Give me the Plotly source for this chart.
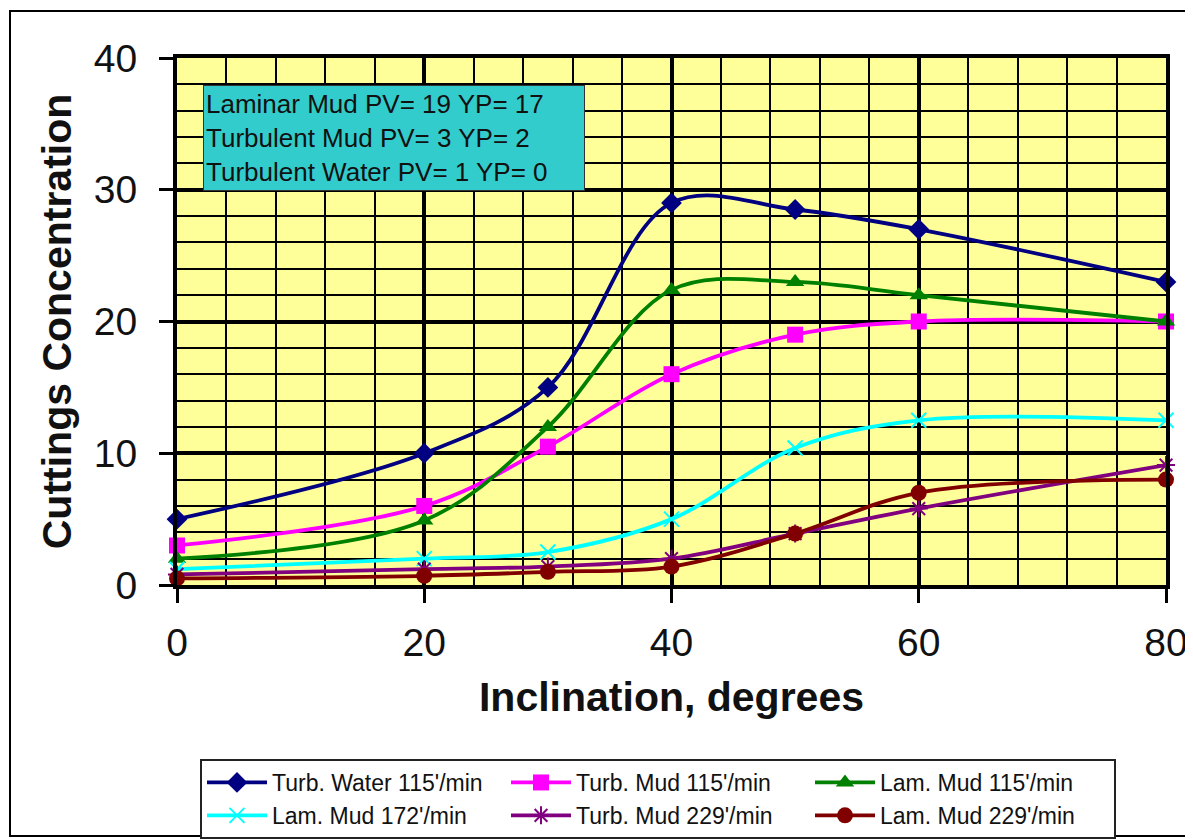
import plotly.graph_objects as go

# ---- data ----
inclination = [0, 20, 30, 40, 50, 60, 80]
turb_water_115 = [5, 10, 15, 29, 28.5, 27, 23]
turb_mud_115 = [3, 6, 10.5, 16, 19, 20, 20]
lam_mud_115 = [2, 4.9, 12, 22.4, 23, 22, 20]
lam_mud_172 = [1.2, 2, 2.5, 5, 10.4, 12.5, 12.5]
turb_mud_229 = [0.8, 1.2, 1.4, 2, 3.9, 5.8, 9.1]
lam_mud_229 = [0.5, 0.7, 1.0, 1.4, 3.9, 7.0, 8.0]

series_names = ["Turb. Water 115'/min", "Turb. Mud 115'/min", "Lam. Mud 115'/min",
                "Lam. Mud 172'/min", "Turb. Mud 229'/min", "Lam. Mud 229'/min"]
x_ticks = [0, 20, 40, 60, 80]
y_ticks = [0, 10, 20, 30, 40]
note_lines = ["Laminar Mud PV= 19 YP= 17", "Turbulent Mud PV= 3 YP= 2",
              "Turbulent Water PV= 1 YP= 0"]

FONT = "Liberation Sans, Arial, sans-serif"
OFF = 8  # page body margin of the exported html
W, H = 1193 - OFF, 839 - OFF
# plot area bounds in screenshot pixels
L, R, T, B = 177, 1166, 58, 585


def px(xp):
    return (xp - L) / (R - L)


def py(yp):
    return (B - yp) / (B - T)


styles = [
    dict(color="#000080", symbol="diamond", size=16, lw=0),
    dict(color="#FF00FF", symbol="square", size=16, lw=0),
    dict(color="#008000", symbol="triangle-up", size=16, lw=0),
    dict(color="#00FFFF", symbol="x-thin", size=15, lw=2),
    dict(color="#800080", symbol="asterisk", size=15, lw=2),
    dict(color="#800000", symbol="circle", size=16, lw=0),
]
all_series = [turb_water_115, turb_mud_115, lam_mud_115, lam_mud_172, turb_mud_229, lam_mud_229]

fig = go.Figure()
for name, ys, st in zip(series_names, all_series, styles):
    fig.add_trace(go.Scatter(
        x=inclination, y=ys, name=name, mode="lines+markers",
        line=dict(color=st["color"], width=3.8, shape="spline", smoothing=1.0),
        marker=dict(color=st["color"], symbol=st["symbol"], size=st["size"],
                    line=dict(color=st["color"], width=st["lw"])),
        cliponaxis=False,
    ))

fig.update_layout(
    width=W, height=H,
    margin=dict(l=L - OFF, r=(W + OFF) - R, t=T - OFF, b=(H + OFF) - B, autoexpand=False),
    paper_bgcolor="white", plot_bgcolor="#FFFF99",
    font=dict(family=FONT, color="#111111"),
    showlegend=True,
    legend=dict(orientation="h", x=px(200), y=py(759), xanchor="left", yanchor="top",
                bgcolor="white", bordercolor="#222222", borderwidth=2,
                font=dict(size=23, family=FONT, color="#111111"),
                entrywidth=229, tracegroupgap=0, itemwidth=60),
)

fig.update_xaxes(
    range=[0, 80], tickvals=x_ticks, ticktext=[str(v) for v in x_ticks],
    showgrid=True, gridcolor="black", gridwidth=4,
    minor=dict(dtick=4, tick0=0, showgrid=True, gridcolor="black", gridwidth=1.8),
    showline=True, linecolor="black", linewidth=4, mirror=True,
    ticks="outside", ticklen=14, tickwidth=3, tickcolor="black",
    tickfont=dict(size=39, family=FONT, color="#111111"),
    ticklabelstandoff=6,
    zeroline=False, automargin=False,
    title=dict(text="<b>Inclination, degrees</b>", font=dict(size=41, family=FONT, color="#111111"),
               standoff=21),
)
fig.update_yaxes(
    range=[0, 40], tickvals=y_ticks, ticktext=[str(v) for v in y_ticks],
    showgrid=True, gridcolor="black", gridwidth=4,
    minor=dict(dtick=2, tick0=0, showgrid=True, gridcolor="black", gridwidth=1.8),
    showline=True, linecolor="black", linewidth=4, mirror=True,
    ticks="outside", ticklen=14, tickwidth=3, tickcolor="black",
    tickfont=dict(size=39, family=FONT, color="#111111"),
    ticklabelstandoff=14,
    zeroline=False, automargin=False,
    title=dict(text="<b>Cuttings Concentration</b>", font=dict(size=41, family=FONT, color="#111111"),
               standoff=10),
)

# info box
fig.add_annotation(
    xref="paper", yref="paper", x=px(203), y=py(85), xanchor="left", yanchor="top",
    text="<br>".join(note_lines), showarrow=False, align="left",
    font=dict(size=26, family=FONT, color="#111111"),
    bgcolor="#33CCCC", bordercolor="#333333", borderwidth=1, borderpad=2,
    width=376, height=100,
)

# outer chart frame
fig.add_shape(type="rect", xref="paper", yref="paper",
              x0=px(10), x1=px(1190), y0=py(836), y1=py(11),
              line=dict(color="black", width=2), fillcolor="rgba(0,0,0,0)", layer="below")

fig.write_html("out.html")
